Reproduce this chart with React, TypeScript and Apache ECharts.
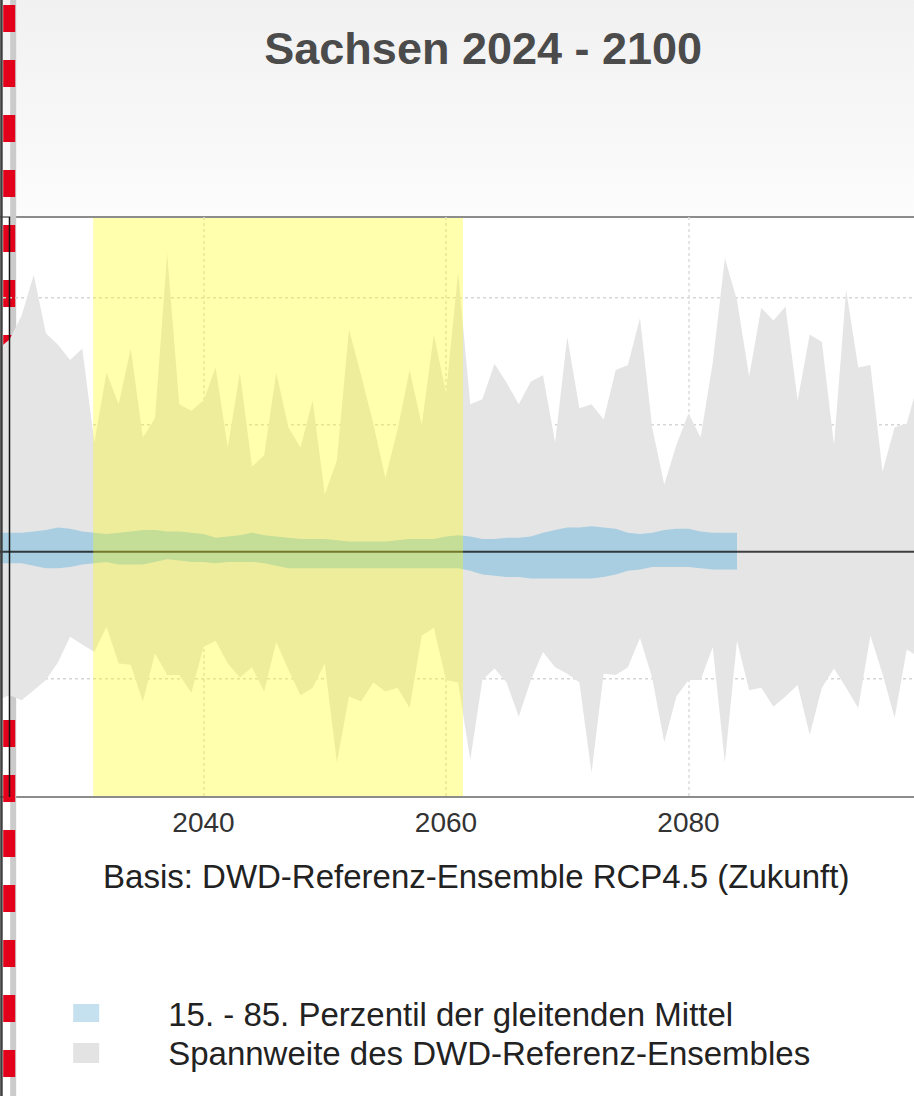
import React, { useEffect, useRef } from "react";
import * as echarts from "echarts";

const titleText = "Sachsen 2024 - 2100";
const basisText = "Basis: DWD-Referenz-Ensemble RCP4.5 (Zukunft)";
const legendLabels = [
  "15. - 85. Perzentil der gleitenden Mittel",
  "Spannweite des DWD-Referenz-Ensembles",
];

const firstYear = 2023;

// Spannweite des Ensembles (obere / untere Grenze), 2023 - 2099
const rangeUpper = [
  15.9, 16.7, 18.6, 21.8, 17.2, 16.3, 15.1, 16.0,
  8.6, 14.1, 11.6, 16.0, 9.0, 10.5, 23.5, 11.6, 11.1, 11.9,
  14.5, 8.2, 14.1, 6.7, 7.6, 14.1, 9.8, 8.2, 11.9, 4.5,
  7.2, 17.5, 13.9, 10.1, 5.8, 9.6, 14.3, 10.0, 17.1, 12.5,
  22.0, 11.6, 12.0, 14.8, 13.3, 11.6, 13.4, 13.9, 8.6, 16.9,
  11.3, 11.6, 10.4, 14.3, 14.7, 18.4, 9.8, 5.3, 8.4, 10.9,
  9.0, 14.9, 23.1, 19.8, 13.8, 19.2, 18.2, 19.3, 11.9, 17.1,
  16.5, 8.4, 20.6, 14.5, 14.7, 6.3, 9.8, 10.1, 13.5,
];
const rangeLower = [
  -11.7, -11.3, -11.7, -10.9, -10.1, -8.7, -6.7, -7.3,
  -7.9, -5.9, -8.8, -8.9, -11.8, -8.0, -9.7, -9.7, -11.1, -7.5,
  -7.0, -8.8, -9.9, -9.1, -11.0, -7.1, -9.3, -11.3, -10.7, -8.8,
  -16.6, -11.4, -11.8, -10.3, -11.0, -10.7, -12.3, -6.6, -6.0, -10.1,
  -10.3, -16.4, -10.1, -9.2, -10.3, -13.0, -10.1, -7.9, -9.1, -9.6,
  -10.3, -17.4, -9.6, -9.7, -9.1, -6.8, -9.9, -15.0, -11.4, -10.1,
  -10.1, -7.5, -16.6, -7.0, -10.9, -10.7, -12.2, -11.4, -10.5, -14.4,
  -10.7, -9.2, -10.7, -12.3, -6.6, -9.6, -13.1, -7.7, -8.3,
];

// 15. - 85. Perzentil der gleitenden Mittel, 2023 - 2084
const bandUpper = [
  1.5, 1.5, 1.5, 1.6, 1.7, 1.9, 1.8, 1.6,
  1.5, 1.4, 1.5, 1.6, 1.7, 1.7, 1.6, 1.6, 1.5, 1.4,
  1.1, 1.2, 1.3, 1.5, 1.3, 1.2, 1.1, 1.0, 1.0, 1.0,
  0.9, 0.8, 0.8, 0.8, 0.8, 0.9, 1.0, 1.0, 1.0, 1.2,
  1.3, 1.2, 1.0, 1.0, 1.1, 1.1, 1.2, 1.5, 1.7, 1.9,
  1.9, 2.0, 1.9, 1.8, 1.5, 1.4, 1.5, 1.7, 1.8, 1.8,
  1.6, 1.5, 1.5, 1.5,
];
const bandLower = [
  -0.9, -0.9, -0.9, -1.1, -1.3, -1.3, -1.2, -1.0,
  -0.9, -0.8, -1.0, -1.0, -1.0, -0.8, -0.6, -0.7, -0.8, -0.8,
  -0.9, -0.8, -0.8, -0.8, -0.9, -1.1, -1.3, -1.3, -1.3, -1.3,
  -1.3, -1.3, -1.3, -1.3, -1.3, -1.3, -1.3, -1.3, -1.3, -1.3,
  -1.3, -1.5, -1.8, -1.9, -2.0, -2.0, -2.1, -2.1, -2.1, -2.1,
  -2.1, -2.1, -2.0, -1.8, -1.5, -1.4, -1.2, -1.2, -1.2, -1.2,
  -1.3, -1.4, -1.4, -1.4,
];

const highlightPeriod = [2030.9, 2061.4];
const xMin = 2020;
const xMax = 2100;
const xInterval = 20;
const yMin = -19.31;
const yMax = 26.35;
const yGridLevels = [-10, 10, 20];
const zeroLevel = 0;
const markerYear = 2024;

// the chart canvas is wider than the page and shifted left, so that the
// plot's 2020 and 2100 ends fall outside the visible window
const shift = 39.2;
const canvasWidth = 970;
const pageW = 914;
const pageH = 1096;

const sans = '"Liberation Sans", Arial, sans-serif';

function polygonRenderer(upper: number[], lower: number[], fill: string) {
  return (params: any, api: any) => {
    const pts: number[][] = [];
    upper.forEach((v, i) => pts.push(api.coord([firstYear + i, v])));
    for (let i = lower.length - 1; i >= 0; i--) {
      pts.push(api.coord([firstYear + i, lower[i]]));
    }
    return {
      type: "polygon",
      shape: { points: pts },
      style: { fill },
      silent: true,
    };
  };
}

export default function App() {
  const ref = useRef<HTMLDivElement>(null);

  useEffect(() => {
    if (!ref.current) return;
    const chart = echarts.init(ref.current, undefined, { renderer: "svg" });
    const X = (x: number) => x + shift;

    const option: any = {
      animation: false,
      backgroundColor: "#ffffff",
      grid: {
        left: 0,
        right: 0,
        top: 217,
        bottom: 299,
        show: true,
        borderColor: "#8c8c8c",
        borderWidth: 2,
        backgroundColor: "transparent",
      },
      xAxis: {
        type: "value",
        min: xMin,
        max: xMax,
        interval: xInterval,
        axisLine: { show: true, lineStyle: { color: "#8c8c8c", width: 2 } },
        axisTick: { show: true, length: 7, lineStyle: { color: "#8c8c8c", width: 2 } },
        axisLabel: {
          showMinLabel: false,
          showMaxLabel: false,
          formatter: (v: number) => String(v),
          fontSize: 28,
          fontFamily: sans,
          color: "#333333",
          margin: 11,
        },
        splitLine: {
          show: true,
          lineStyle: { color: "#dcdcdc", width: 1.5, type: [3, 3] },
        },
      },
      yAxis: {
        type: "value",
        min: yMin,
        max: yMax,
        show: false,
        splitLine: { show: false },
      },
      series: [
        {
          name: "grid",
          type: "custom",
          z: 1,
          silent: true,
          data: yGridLevels.map((v) => [xMin, v]),
          renderItem: (params: any, api: any) => {
            const cs = params.coordSys;
            const y = api.coord([xMin, api.value(1)])[1];
            return {
              type: "line",
              shape: { x1: cs.x, y1: y, x2: cs.x + cs.width, y2: y },
              style: { stroke: "#d6d6d6", lineWidth: 1.5, lineDash: [3, 3] },
            };
          },
        },
        {
          name: legendLabels[1],
          type: "custom",
          z: 2,
          data: [[firstYear, 0]],
          renderItem: polygonRenderer(rangeUpper, rangeLower, "#e5e5e5"),
        },
        {
          name: legendLabels[0],
          type: "custom",
          z: 3,
          data: [[firstYear, 0]],
          renderItem: polygonRenderer(bandUpper, bandLower, "#a9cee1"),
        },
        {
          name: "zero",
          type: "line",
          z: 4,
          silent: true,
          symbol: "none",
          data: [
            [xMin, zeroLevel],
            [xMax, zeroLevel],
          ],
          lineStyle: { color: "rgba(20,20,20,0.8)", width: 2 },
        },
        {
          name: "highlight",
          type: "custom",
          z: 6,
          silent: true,
          data: [highlightPeriod],
          renderItem: (params: any, api: any) => {
            const cs = params.coordSys;
            const x0 = api.coord([api.value(0), 0])[0];
            const x1 = api.coord([api.value(1), 0])[0];
            return {
              type: "rect",
              shape: { x: x0, y: cs.y + 1, width: x1 - x0, height: cs.height - 2 },
              style: { fill: "rgba(255,255,0,0.32)" },
            };
          },
        },
        {
          name: "marker",
          type: "line",
          z: 7,
          silent: true,
          symbol: "none",
          data: [
            [markerYear, yMin],
            [markerYear, yMax],
          ],
          lineStyle: { color: "#151515", width: 1.5 },
        },
      ],
      graphic: [
        {
          type: "rect",
          z: 0,
          silent: true,
          shape: { x: 0, y: 0, width: canvasWidth, height: 216 },
          style: {
            fill: {
              type: "linear",
              x: 0,
              y: 0,
              x2: 0,
              y2: 1,
              colorStops: [
                { offset: 0, color: "#f1f1f1" },
                { offset: 1, color: "#fcfcfc" },
              ],
            },
          },
        },
        {
          type: "line",
          z: 1,
          silent: true,
          shape: { x1: X(13), y1: 0, x2: X(13), y2: pageH },
          style: { stroke: "#cbcbcb", lineWidth: 6 },
        },
        {
          type: "line",
          z: 1,
          silent: true,
          shape: { x1: X(9), y1: 5, x2: X(9), y2: pageH },
          style: { stroke: "#e2001a", lineWidth: 12, lineDash: [27, 28] },
        },
        {
          type: "rect",
          z: 100,
          silent: true,
          shape: { x: X(0), y: 0, width: 2.5, height: pageH },
          style: { fill: "#3d3d3d" },
        },
        {
          type: "text",
          z: 10,
          x: X(483),
          y: 48,
          style: {
            text: titleText,
            fontSize: 45,
            fontWeight: "bold",
            fontFamily: sans,
            fill: "#4b4b4b",
            align: "center",
            verticalAlign: "middle",
            textAlign: "center",
            textVerticalAlign: "middle",
          },
        },
        {
          type: "text",
          z: 10,
          x: X(476),
          y: 876,
          style: {
            text: basisText,
            fontSize: 33,
            fontFamily: sans,
            fill: "#222222",
            align: "center",
            verticalAlign: "middle",
            textAlign: "center",
            textVerticalAlign: "middle",
          },
        },
        {
          type: "rect",
          z: 10,
          shape: { x: X(73), y: 1004, width: 26, height: 18 },
          style: { fill: "#c5e0ef" },
        },
        {
          type: "rect",
          z: 10,
          shape: { x: X(73), y: 1043, width: 26, height: 20 },
          style: { fill: "#e3e3e3" },
        },
        {
          type: "text",
          z: 10,
          x: X(168),
          y: 1014,
          style: {
            text: legendLabels[0],
            fontSize: 33,
            fontFamily: sans,
            fill: "#222222",
            align: "left",
            verticalAlign: "middle",
            textAlign: "left",
            textVerticalAlign: "middle",
          },
        },
        {
          type: "text",
          z: 10,
          x: X(168),
          y: 1053,
          style: {
            text: legendLabels[1],
            fontSize: 33,
            fontFamily: sans,
            fill: "#222222",
            align: "left",
            verticalAlign: "middle",
            textAlign: "left",
            textVerticalAlign: "middle",
          },
        },
      ],
    };

    chart.setOption(option);
    return () => {
      chart.dispose();
    };
  }, []);

  return (
    <div
      style={{
        position: "absolute",
        left: 0,
        top: 0,
        width: pageW,
        height: pageH,
        overflow: "hidden",
        background: "#ffffff",
      }}
    >
      <div
        ref={ref}
        style={{
          position: "absolute",
          left: -shift,
          top: 0,
          width: canvasWidth,
          height: pageH,
        }}
      />
    </div>
  );
}
